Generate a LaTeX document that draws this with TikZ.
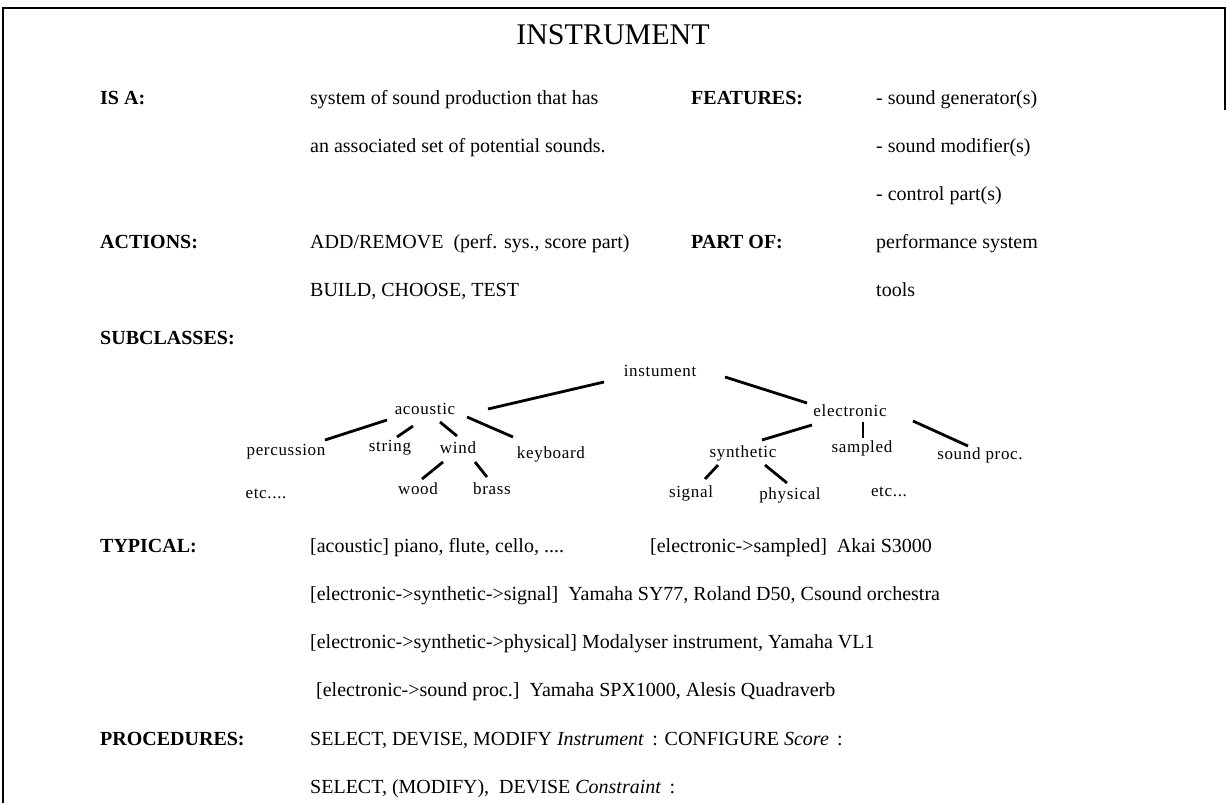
\documentclass[tikz,border=0pt]{standalone}
\usepackage{fontspec}
\setmainfont{Liberation Serif}
\newfontfamily\treefont[LetterSpace=4]{Liberation Serif}
\usetikzlibrary{positioning}

\begin{document}
\begin{tikzpicture}[x=1pt, y=-1pt,
    lbl/.style={anchor=base west, inner sep=0, font=\fontsize{20}{24}\selectfont\bfseries},
    txt/.style={anchor=base west, inner sep=0, font=\fontsize{20}{24}\selectfont},
    tnode/.style={inner sep=0, font=\treefont\fontsize{17}{19}\selectfont},
    branch/.style={line width=2.8pt}
]
\useasboundingbox (0,0) rectangle (1227,803);
\draw[line width=2pt] (3,803) -- (3,8) -- (1225,8) -- (1225,110);

\node[font=\fontsize{30}{36}\selectfont] (title) at (613,35) {INSTRUMENT};

\node[lbl] (isa) at (100,104) {IS A:};
\node[txt] (isa1) at (310,104) {system of sound production that has};
\node[txt] (isa2) at (310,152) {an associated set of potential sounds.};
\node[lbl] (feat) at (691,104) {FEATURES:};
\node[txt] (feat1) at (876,104) {- sound generator(s)};
\node[txt] (feat2) at (876,152) {- sound modifier(s)};
\node[txt] (feat3) at (876,200) {- control part(s)};
\node[lbl] (act) at (100,248) {ACTIONS:};
\node[txt] (act1) at (310,248) {ADD/REMOVE\ \ (perf. sys., score part)};
\node[txt] (act2) at (310,296) {BUILD, CHOOSE, TEST};
\node[lbl] (partof) at (691,248) {PART OF:};
\node[txt] (partof1) at (876,248) {performance system};
\node[txt] (partof2) at (876,296) {tools};
\node[lbl] (sub) at (100,344) {SUBCLASSES:};

\node[tnode] (inst) at (660,371) {instument};
\node[tnode] (ac) at (425,409) {acoustic};
\node[tnode] (el) at (850,411) {electronic};
\node[tnode] (perc) at (286,452) {percussion};
\node[tnode] (str) at (390,448) {string};
\node[tnode] (wind) at (458,448) {wind};
\node[tnode] (kb) at (551,454) {keyboard};
\node[tnode] (wood) at (418,489) {wood};
\node[tnode] (brass) at (492,489) {brass};
\node[tnode] (etcac) at (266,494) {etc....};
\node[tnode] (syn) at (743,453) {synthetic};
\node[tnode] (samp) at (862,448) {sampled};
\node[tnode] (sp) at (980,455) {sound proc.};
\node[tnode] (sig) at (691,493) {signal};
\node[tnode] (phys) at (790,495) {physical};
\node[tnode] (etcel) at (889,492) {etc...};

\draw[branch] ([shift={(-56,11)}]inst.center) -- ([shift={(63,0)}]ac.center);
\draw[branch] ([shift={(65,6)}]inst.center) -- ([shift={(-43,-8)}]el.center);
\draw[branch] ([shift={(-38,11)}]ac.center) -- ([shift={(39,-12)}]perc.center);
\draw[branch] ([shift={(-12,17)}]ac.center) -- ([shift={(7,-11)}]str.center);
\draw[branch] ([shift={(15,13)}]ac.center) -- ([shift={(-1,-12)}]wind.center);
\draw[branch] ([shift={(42,8)}]ac.center) -- ([shift={(-38,-17)}]kb.center);
\draw[branch] ([shift={(-15,14)}]wind.center) -- ([shift={(4,-10)}]wood.center);
\draw[branch] ([shift={(17,14)}]wind.center) -- ([shift={(-5,-12)}]brass.center);
\draw[branch] ([shift={(-38,14)}]el.center) -- ([shift={(19,-13)}]syn.center);
\draw[branch] ([shift={(13,11)}]el.center) -- ([shift={(1,-10)}]samp.center);
\draw[branch] ([shift={(63,10)}]el.center) -- ([shift={(-12,-9)}]sp.center);
\draw[branch] ([shift={(-25,12)}]syn.center) -- ([shift={(14,-14)}]sig.center);
\draw[branch] ([shift={(22,12)}]syn.center) -- ([shift={(-3,-12)}]phys.center);

\node[lbl] (typ) at (100,552) {TYPICAL:};
\node[txt] (typ1) at (310,552) {[acoustic] piano, flute, cello, ....};
\node[txt] (typ2) at (650,552) {[electronic->sampled]\ \ Akai S3000};
\node[txt] (typ3) at (310,600) {[electronic->synthetic->signal]\ \ Yamaha SY77, Roland D50, Csound orchestra};
\node[txt] (typ4) at (310,648) {[electronic->synthetic->physical] Modalyser instrument, Yamaha VL1};
\node[txt] (typ5) at (316,696) {[electronic->sound proc.]\ \ Yamaha SPX1000, Alesis Quadraverb};

\node[lbl] (proc) at (100,745) {PROCEDURES:};
\node[txt] (proc1) at (310,745) {SELECT, DEVISE, MODIFY \textit{Instrument}\, : CONFIGURE \textit{Score}\, :};
\node[txt] (proc2) at (310,793) {SELECT, (MODIFY),\ \ DEVISE \textit{Constraint}\, :};
\end{tikzpicture}
\end{document}
